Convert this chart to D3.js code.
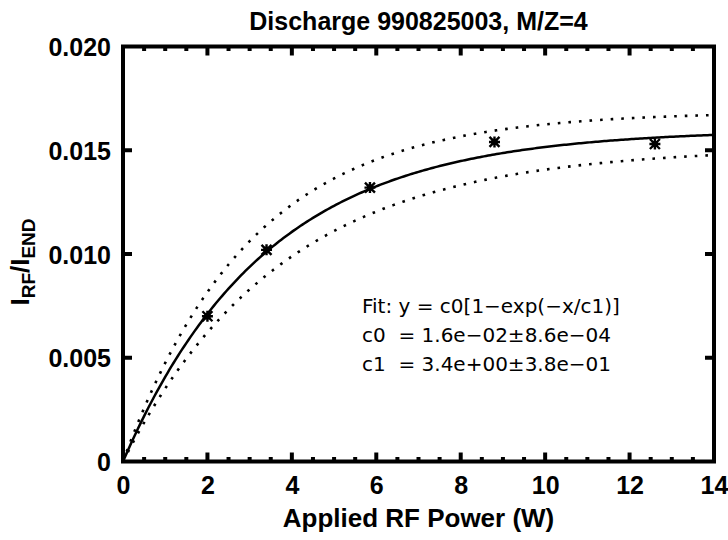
<!DOCTYPE html>
<html><head><meta charset="utf-8">
<script src="https://cdn.jsdelivr.net/npm/d3@7"></script>
<style>body{margin:0;background:#fff}svg{display:block}</style>
</head><body>
<svg id="c" width="728" height="540"></svg>
<script>
// Data
const powerW = [2.0, 3.4, 5.85, 8.8, 12.6];
const ratio = [0.0070, 0.0102, 0.0132, 0.0154, 0.0153];
// Fit parameters as printed on the chart
const fitC0 = 1.6e-2, fitC0Err = 8.6e-4;
const fitC1 = 3.4, fitC1Err = 3.8e-1;
const xTicks = [0, 2, 4, 6, 8, 10, 12, 14];
const yTicks = [0, 0.005, 0.010, 0.015, 0.020];
const yTickLabels = ["0", "0.005", "0.010", "0.015", "0.020"];
const fitLines = ["Fit: y = c0[1\u2212exp(\u2212x/c1)]", "c0  = 1.6e\u221202\u00b18.6e\u221204", "c1  = 3.4e+00\u00b13.8e\u221201"];

const W = 728, H = 540;
const L = 123, R = 714, T = 46.5, B = 461.5;
const svg = d3.select("#c");
svg.append("rect").attr("width", W).attr("height", H).attr("fill", "#fff");
const x = d3.scaleLinear().domain([0, 14]).range([L, R]);
const y = d3.scaleLinear().domain([0, 0.020]).range([B, T]);

const font = "'Liberation Sans', Arial, Helvetica, sans-serif";

// curves from fit parameters
const fx = d3.range(0, 14.0001, 0.05);
const model = (c0, c1) => fx.map(v => [v, c0 * (1 - Math.exp(-v / c1))]);
const line = d3.line().x(d => x(d[0])).y(d => y(d[1]));
const g = svg.append("g");
g.append("path").datum(model(fitC0, fitC1)).attr("d", line)
  .attr("fill", "none").attr("stroke", "#000").attr("stroke-width", 2.5);
g.append("path").datum(model(fitC0 + fitC0Err, fitC1 - fitC1Err)).attr("d", line)
  .attr("fill", "none").attr("stroke", "#000").attr("stroke-width", 2.6).attr("stroke-dasharray", "2.6 8");
g.append("path").datum(model(fitC0 - fitC0Err, fitC1 + fitC1Err)).attr("d", line)
  .attr("fill", "none").attr("stroke", "#000").attr("stroke-width", 2.6).attr("stroke-dasharray", "2.6 8");

// markers (asterisk-like)
const mk = svg.append("g");
powerW.forEach((p, i) => {
  const px = x(p), py = y(ratio[i]);
  mk.append("path").attr("transform", `translate(${px},${py})`)
    .attr("d", "M-5,-5L5,5M-5,5L5,-5M-5.5,0L5.5,0M0,-5.5L0,5.5")
    .attr("stroke", "#000").attr("stroke-width", 2.4).attr("fill", "none");
  mk.append("rect").attr("x", px - 3).attr("y", py - 3).attr("width", 6).attr("height", 6).attr("fill", "#000");
});

// axes frame with ticks inward
const axW = 4;
const gx = svg.append("g").attr("transform", `translate(0,${B})`)
  .call(d3.axisBottom(x).tickValues(xTicks).tickSize(0).tickPadding(15).tickFormat(d3.format("d")));
const gxTop = svg.append("g").attr("transform", `translate(0,${T})`)
  .call(d3.axisTop(x).tickValues(xTicks).tickSize(0).tickFormat(""));
const gy = svg.append("g").attr("transform", `translate(${L},0)`)
  .call(d3.axisLeft(y).tickValues(yTicks).tickSize(0).tickPadding(12).tickFormat((d, i) => yTickLabels[i]));
const gyR = svg.append("g").attr("transform", `translate(${R},0)`)
  .call(d3.axisRight(y).tickValues(yTicks).tickSize(0).tickFormat(""));
[gx, gxTop, gy, gyR].forEach(a => {
  a.select(".domain").remove();
  a.selectAll("text").attr("fill", "#000").style("font-family", font).style("font-weight", "bold").style("font-size", "25px");
});
gx.selectAll("text").attr("dy", "0.71em");
gy.selectAll("text").attr("dy", "0.36em");
svg.append("rect").attr("x", L).attr("y", T).attr("width", R - L).attr("height", B - T)
  .attr("fill", "none").attr("stroke", "#000").attr("stroke-width", axW);

const tk = svg.append("g").attr("stroke", "#000").attr("stroke-width", 4);
const xMinor = d3.range(0.5, 14, 0.5).filter(v => v % 2 !== 0);
xTicks.slice(1, -1).forEach(v => {
  tk.append("line").attr("x1", x(v)).attr("x2", x(v)).attr("y1", B).attr("y2", B - 9);
  tk.append("line").attr("x1", x(v)).attr("x2", x(v)).attr("y1", T).attr("y2", T + 9);
});
xMinor.forEach(v => {
  tk.append("line").attr("x1", x(v)).attr("x2", x(v)).attr("y1", B).attr("y2", B - 4.5);
  tk.append("line").attr("x1", x(v)).attr("x2", x(v)).attr("y1", T).attr("y2", T + 4.5);
});
yTicks.slice(1, -1).forEach(v => {
  tk.append("line").attr("x1", L).attr("x2", L + 9).attr("y1", y(v)).attr("y2", y(v));
  tk.append("line").attr("x1", R).attr("x2", R - 9).attr("y1", y(v)).attr("y2", y(v));
});

// titles
svg.append("text").attr("x", (L + R) / 2).attr("y", 30).attr("text-anchor", "middle")
  .style("font-family", font).style("font-weight", "bold").style("font-size", "25px").text("Discharge 990825003, M/Z=4");
svg.append("text").attr("x", (L + R) / 2).attr("y", 527).attr("text-anchor", "middle")
  .style("font-family", font).style("font-weight", "bold").style("font-size", "26px").text("Applied RF Power (W)");
const yt = svg.append("text").attr("transform", `translate(29,${(T + B) / 2 + 8}) rotate(-90)`).attr("text-anchor", "middle")
  .style("font-family", font).style("font-weight", "bold").style("font-size", "26px");
yt.append("tspan").text("I");
yt.append("tspan").attr("dy", 6).style("font-size", "19px").text("RF");
yt.append("tspan").attr("dy", -6).text("/I");
yt.append("tspan").attr("dy", 6).style("font-size", "19px").text("END");

// fit annotation
const ann = svg.append("g").style("font-family", "'DejaVu Sans', sans-serif").style("font-size", "20px").attr("fill", "#000");
fitLines.forEach((t, i) => {
  ann.append("text").attr("x", 362).attr("y", 313 + i * 29).attr("xml:space", "preserve").style("white-space", "pre").text(t);
});
</script>
</body></html>
